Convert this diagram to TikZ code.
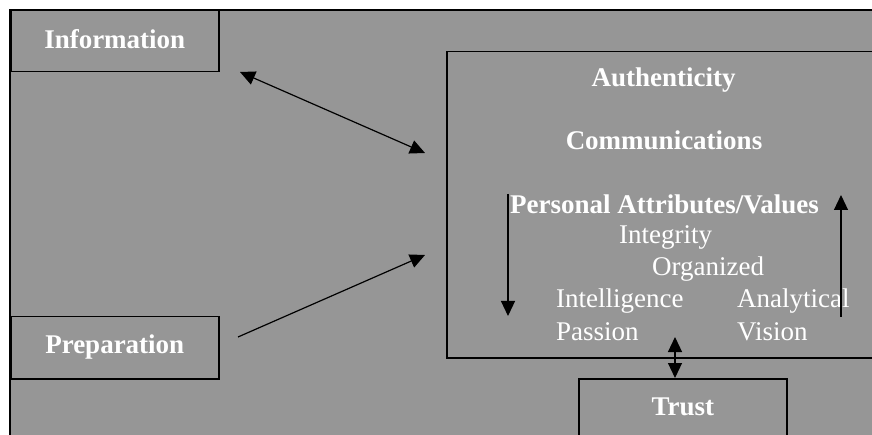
\documentclass[tikz,border=0pt]{standalone}
\usepackage{fontspec}
\setmainfont{Liberation Serif}
\usetikzlibrary{arrows.meta, positioning}
\definecolor{panelgray}{RGB}{150,150,150}

\begin{document}
\begin{tikzpicture}[x=1pt, y=-1pt,
  box/.style={draw=black, line width=1.5pt, inner sep=0pt, text=white, align=center, font=\fontsize{27}{30}\selectfont\bfseries},
  head/.style={inner sep=0pt, text=white, anchor=base, font=\fontsize{27}{30}\selectfont\bfseries},
  trait/.style={inner sep=0pt, text=white, anchor=base west, font=\fontsize{27}{30}\selectfont},
  oneway/.style={line width=1.2pt, -{Triangle[length=15pt,width=14pt]}},
  twoway/.style={line width=1.2pt, {Triangle[length=15pt,width=14pt]}-{Triangle[length=15pt,width=14pt]}}]
\useasboundingbox (0,0) rectangle (872,435);
\clip (0,0) rectangle (872,435);

% panel and frame
\fill[panelgray] (10,10) rectangle (872,435);
\draw[line width=2pt] (10,435) -- (10,10) -- (872,10);

% boxes
\node[box, anchor=north west, text width=208pt, text height=38pt, text depth=23pt] (info) at (10,10) {Information};
\node[box, anchor=north west, text width=208pt, text height=37pt, text depth=25pt] (prep) at (10,316) {Preparation};
\node[box, anchor=north west, minimum width=470pt, minimum height=306pt] (core) at (446,51) {};
\node[box, anchor=north west, text width=208pt, text height=37pt, text depth=40pt] (trust) at (578,378) {Trust};

% inside the core box
\node[head] (auth) at (663.5,87) {Authenticity};
\node[head] (comm) at (664,150) {Communications};
\node[head] (pav) at (664.5,214) {Personal Attributes/Values};
\node[trait] (integ) at (619,244) {Integrity};
\node[trait] (organ) at (652,276) {Organized};
\node[trait] (intel) at (556,308) {Intelligence};
\node[trait] (analy) at (737,308) {Analytical};
\node[trait] (pass) at (556,340) {Passion};
\node[trait] (vis) at (737,340) {Vision};

% connectors
\coordinate (infoend) at (240,72);
\coordinate (coreleftup) at (425,153);
\coordinate (prepend) at (238,337);
\coordinate (coreleftdown) at (425,255);
\coordinate (downtop) at (508,194);
\coordinate (downtip) at (508,316);
\coordinate (upfoot) at (841,317);
\coordinate (uptip) at (841,195);
\coordinate (trusttip) at (675,337);

\draw[twoway] (infoend) -- (coreleftup);
\draw[oneway] (prepend) -- (coreleftdown);
\draw[oneway] (downtop) -- (downtip);
\draw[oneway] (upfoot) -- (uptip);
\draw[twoway] (trusttip) -- (trusttip |- trust.north);

\end{tikzpicture}
\end{document}
